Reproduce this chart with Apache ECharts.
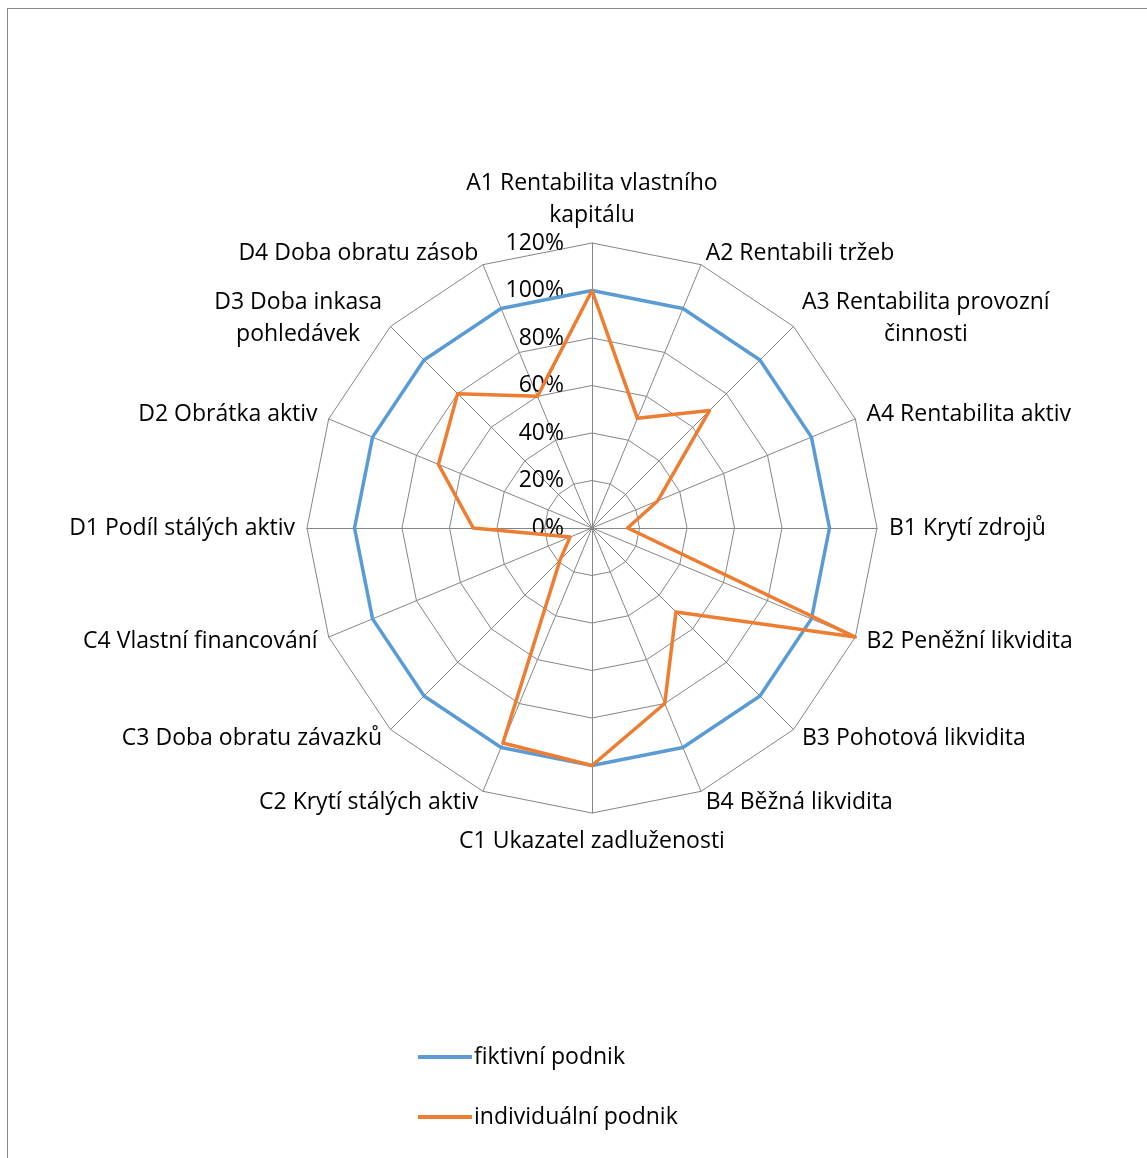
<!DOCTYPE html>
<html>
<head>
<meta charset="utf-8">
<title>Radar</title>
<script src="https://cdn.jsdelivr.net/npm/echarts@6/dist/echarts.min.js"></script>
<style>
  html, body { margin: 0; padding: 0; background: #fff; }
  #chart { position: absolute; left: 0; top: 0; width: 1147px; height: 1158px; }
  #frame { position: absolute; left: 7px; top: 8px; width: 1200px; height: 1200px;
           border-left: 1.5px solid #8a8a8a; border-top: 1.5px solid #8a8a8a; pointer-events: none; }
</style>
</head>
<body>
<div id="chart"></div>
<div id="frame"></div>
<script>
// Indicator names, listed clockwise from the top
const categories = [
  'A1 Rentabilita vlastního\nkapitálu',
  'A2 Rentabili tržeb',
  'A3 Rentabilita provozní\nčinnosti',
  'A4 Rentabilita aktiv',
  'B1 Krytí zdrojů',
  'B2 Peněžní likvidita',
  'B3 Pohotová likvidita',
  'B4 Běžná likvidita',
  'C1 Ukazatel zadluženosti',
  'C2 Krytí stálých aktiv',
  'C3 Doba obratu závazků',
  'C4 Vlastní financování',
  'D1 Podíl stálých aktiv',
  'D2 Obrátka aktiv',
  'D3 Doba inkasa\npohledávek',
  'D4 Doba obratu zásob'
];

const seriesNames = ['fiktivní podnik', 'individuální podnik'];

const fiktivni = [1, 1, 1, 1, 1, 1, 1, 1, 1, 1, 1, 1, 1, 1, 1, 1];
const individualni = [1.00, 0.50, 0.70, 0.30, 0.15, 1.20, 0.50, 0.80,
                      1.00, 0.98, 0.19, 0.10, 0.50, 0.70, 0.80, 0.60];

// Radial scale: 0 % … 120 % in steps of 20 %
const scaleMin = 0;
const scaleMax = 1.2;
const tickStep = 0.2;

const FONT = '"Open Sans", sans-serif';
const FONT_SIZE = 23;
const GRID = '#868686';

// ECharts lays radar indicators out counter-clockwise; keep the first axis
// on top and walk the rest backwards so the chart reads clockwise.
function clockwise(arr) {
  return [arr[0]].concat(arr.slice(1).reverse());
}

const indicator = clockwise(categories).map((name, i) => {
  const ind = { name: name, min: scaleMin, max: scaleMax };
  if (i === 0) ind.axisLabel = { show: true };
  return ind;
});

const chart = echarts.init(document.getElementById('chart'), null, { renderer: 'canvas' });

chart.setOption({
  backgroundColor: '#fff',
  animation: false,
  color: ['#5B9BD5', '#ED7D31'],
  legend: {
    orient: 'vertical',
    left: 413,
    top: 1038,
    itemWidth: 54,
    itemHeight: 4,
    itemGap: 32,
    icon: 'rect',
    data: seriesNames,
    textStyle: { color: '#000', fontSize: FONT_SIZE, fontFamily: FONT, lineHeight: 28, padding: [0, 0, 0, -3] }
  },
  radar: {
    center: [592, 528],
    radius: 285,
    startAngle: 90,
    shape: 'polygon',
    splitNumber: Math.round((scaleMax - scaleMin) / tickStep),
    indicator: indicator,
    nameGap: 12,
    axisName: {
      color: '#000',
      fontSize: FONT_SIZE,
      fontFamily: FONT,
      lineHeight: 32,
      formatter: function (name) {
        return name.split('\n').map(function (line) { return '{c|' + line + '}'; }).join('\n');
      },
      rich: {
        c: { align: 'center', color: '#000', fontSize: FONT_SIZE, fontFamily: FONT, lineHeight: 32 }
      }
    },
    axisLine: { lineStyle: { color: GRID, width: 1 } },
    splitLine: { lineStyle: { color: GRID, width: 1 } },
    splitArea: { show: false },
    axisTick: { show: false },
    axisLabel: {
      show: false,
      color: '#000',
      fontSize: FONT_SIZE,
      fontFamily: FONT,
      margin: 28,
      formatter: function (v) { return Math.round(v * 100) + '%'; }
    }
  },
  series: [{
    type: 'radar',
    symbol: 'none',
    data: [
      { name: seriesNames[0], value: clockwise(fiktivni), lineStyle: { width: 3.5, color: '#5B9BD5' } },
      { name: seriesNames[1], value: clockwise(individualni), lineStyle: { width: 3.5, color: '#ED7D31' } }
    ]
  }]
});
</script>
</body>
</html>
